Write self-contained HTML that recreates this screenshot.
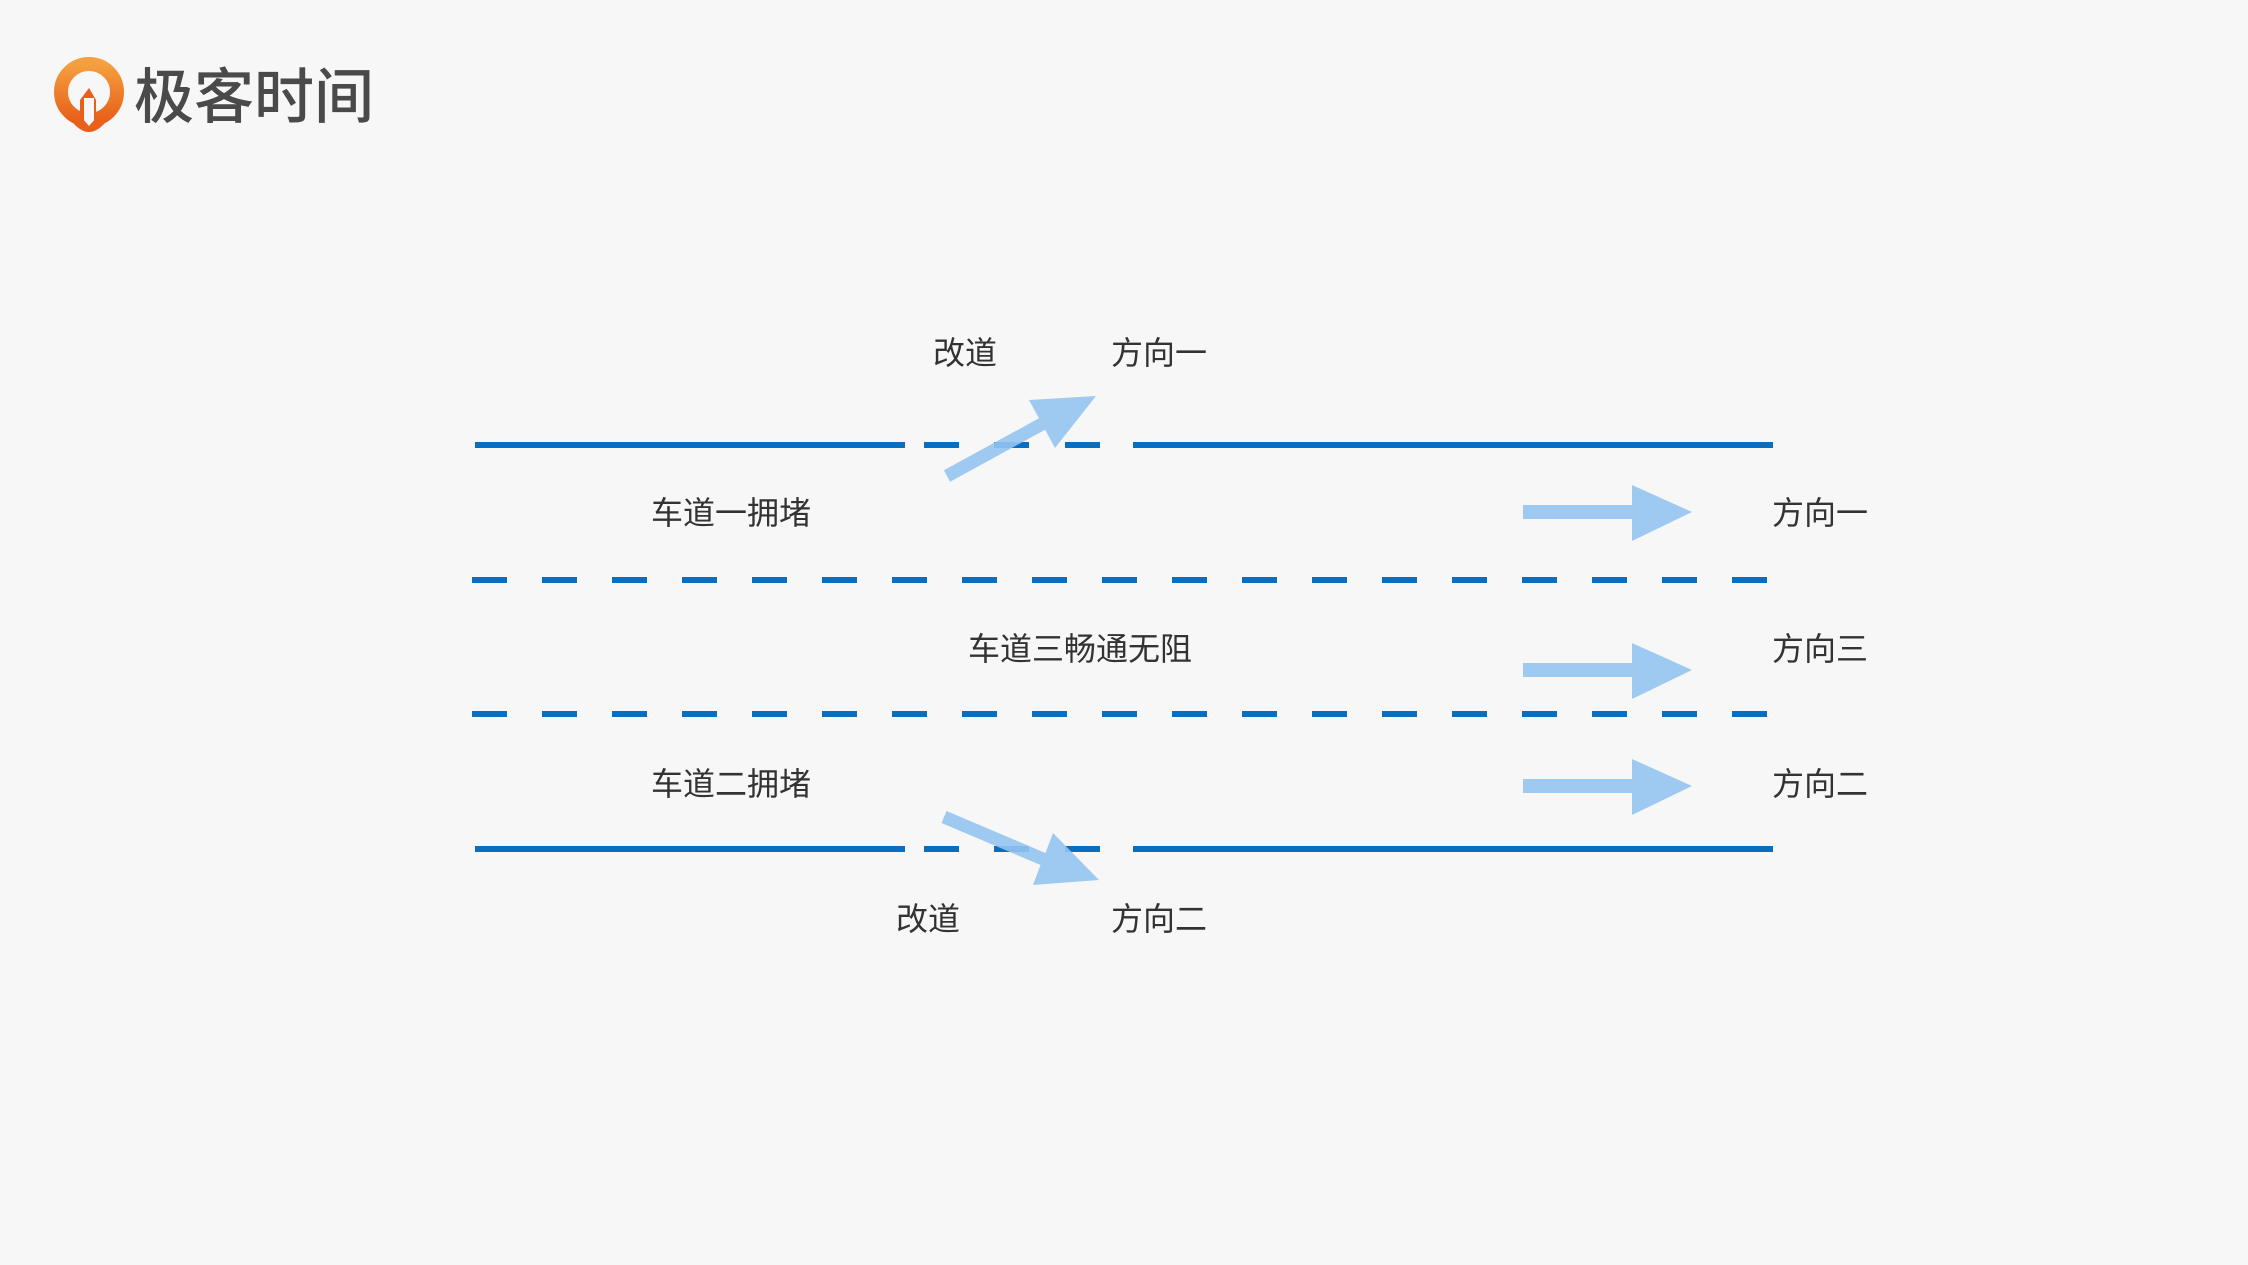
<!DOCTYPE html>
<html><head><meta charset="utf-8"><style>
html,body{margin:0;padding:0;background:#f8f7f8;}
svg{display:block}
text{font-family:"Liberation Sans","Noto Sans CJK SC",sans-serif;fill:#333;font-size:32px}
</style></head><body>
<svg width="2248" height="1265" viewBox="0 0 2248 1265" xmlns="http://www.w3.org/2000/svg">
<defs><linearGradient id="og" x1="0" y1="0" x2="0" y2="1"><stop offset="0" stop-color="#f4a040"/><stop offset="1" stop-color="#e8601a"/></linearGradient></defs>
<!-- logo -->
<circle cx="89" cy="92" r="28" fill="none" stroke="url(#og)" stroke-width="14"/>
<path d="M80 100 L89 88 L96 100 L96 128 Q89 136 80 128 Z" fill="#e8601a"/>
<rect x="84" y="98" width="10" height="32" fill="#f8f7f8"/>
<path d="M74 124 Q89 140 104 124 L96 118 L89 126 L82 118 Z" fill="#e8601a"/>
<text x="134" y="118" style="font-size:60px;fill:#4a4a4a;font-weight:500">极客时间</text>
<!-- lines -->
<g fill="#0a6ec0">
<rect x="475" y="442" width="430" height="6"/>
<rect x="924" y="442" width="35" height="6"/>
<rect x="994" y="442" width="35" height="6"/>
<rect x="1065" y="442" width="35" height="6"/>
<rect x="1133" y="442" width="640" height="6"/>
<rect x="475" y="846" width="430" height="6"/>
<rect x="924" y="846" width="35" height="6"/>
<rect x="994" y="846" width="35" height="6"/>
<rect x="1065" y="846" width="35" height="6"/>
<rect x="1133" y="846" width="640" height="6"/>
</g>
<line x1="472" y1="580" x2="1772" y2="580" stroke="#0a6ec0" stroke-width="6" stroke-dasharray="35 35"/>
<line x1="472" y1="714" x2="1772" y2="714" stroke="#0a6ec0" stroke-width="6" stroke-dasharray="35 35"/>
<!-- arrows -->
<g fill="#94c4ef" fill-opacity="0.9">
<polygon points="943.9,470.3 1038.9,418.3 1029,400 1096,396 1055,448 1045.1,429.7 950.1,481.7"/>
<polygon points="946.5,811 1045.5,853 1053,833 1099,880 1033,885 1040.5,865 941.5,823"/>
<polygon points="1523,505 1632,505 1632,485 1692,512 1632,541 1632,519 1523,519"/>
<polygon points="1523,663 1632,663 1632,643 1692,670 1632,699 1632,677 1523,677"/>
<polygon points="1523,779 1632,779 1632,759 1692,786 1632,815 1632,793 1523,793"/>
</g>
<!-- labels -->
<text x="933" y="364">改道</text>
<text x="1111" y="364">方向一</text>
<text x="651" y="524">车道一拥堵</text>
<text x="1772" y="524">方向一</text>
<text x="968" y="660">车道三畅通无阻</text>
<text x="1772" y="660">方向三</text>
<text x="651" y="795">车道二拥堵</text>
<text x="1772" y="795">方向二</text>
<text x="896" y="930">改道</text>
<text x="1111" y="930">方向二</text>
</svg>
</body></html>
